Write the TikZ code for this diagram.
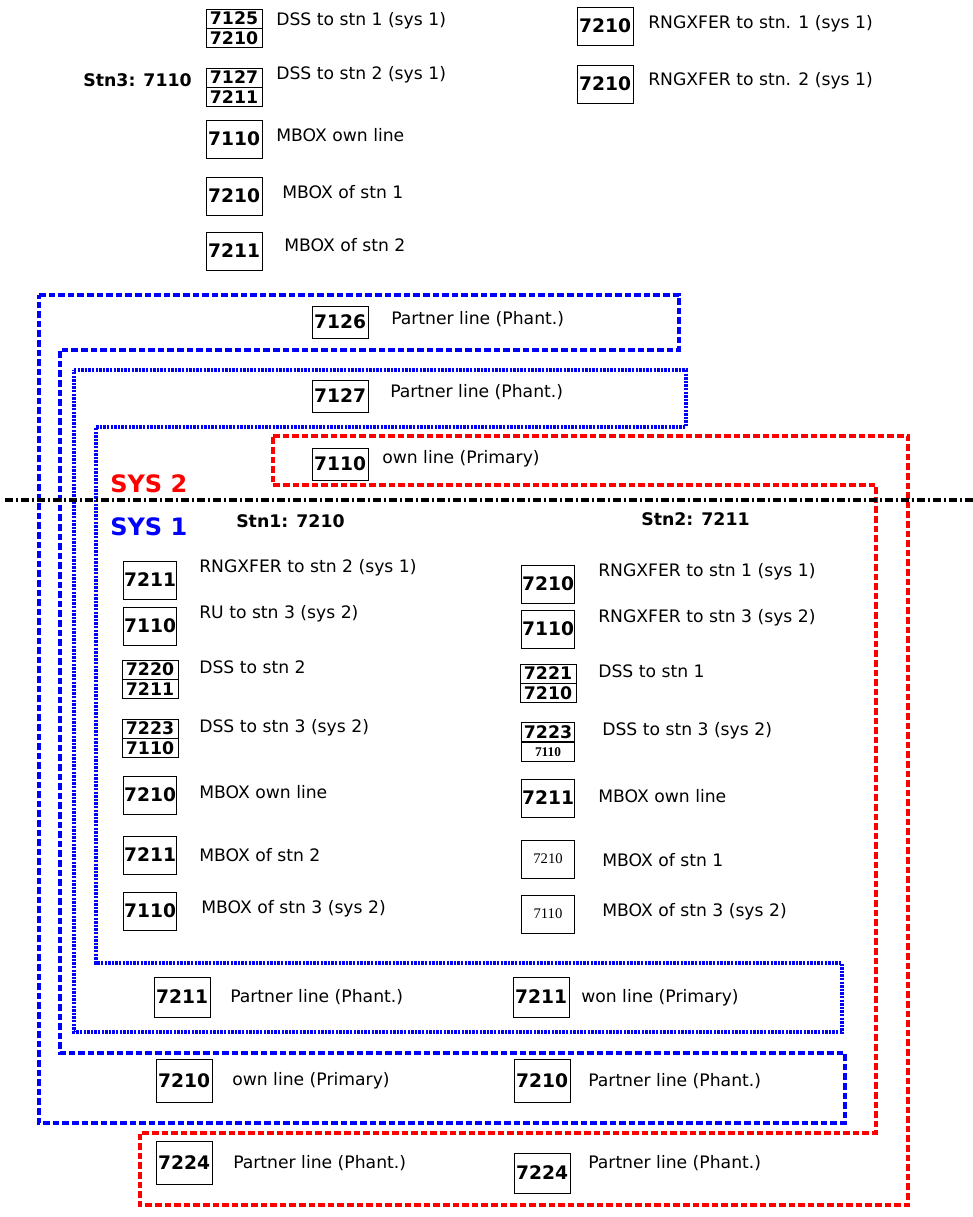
\documentclass[tikz,border=0pt]{standalone}
\usepackage{fontspec}
\setmainfont{DejaVu Sans}
\newfontfamily\numserif{Liberation Serif}
\usetikzlibrary{positioning}
\newcommand{\pairbox}[5]{
    % #1: name, #2: x, #3: y (centre), #4: upper, #5: lower
    \node[half] (#1a) at (#2,#3-9.5) {#4};
    \node[half, below=0pt of #1a] (#1b) {#5};
}
\begin{document}
\begin{tikzpicture}[x=0.75pt, y=-0.75pt]
    \tikzset{
        num/.style={draw, line width=0.7pt, minimum width=42pt, minimum height=28.5pt, inner sep=0, font=\fontsize{14}{15}\selectfont\bfseries},
        half/.style={draw, line width=0.7pt, minimum width=42pt, minimum height=14.25pt, inner sep=0, font=\fontsize{13}{13}\selectfont\bfseries},
        small/.style={num, font=\fontsize{11}{12}\numserif},
        lbl/.style={anchor=west, inner sep=0, font=\fontsize{12.9}{14}\selectfont},
        head/.style={anchor=west, inner sep=0, font=\fontsize{13}{14}\selectfont\bfseries},
        sys/.style={anchor=west, inner sep=0, font=\fontsize{18}{19}\selectfont\bfseries},
        sysdash/.style={line width=2.6pt, dash pattern=on 5pt off 2.2pt},
        sysdot/.style={line width=2.6pt, dash pattern=on 1.8pt off 0.9pt},
    }
    \useasboundingbox (0,0) rectangle (973,1217);
    % system outlines
    \draw[blue, sysdash] (39,295) -- (679,295) -- (679,350) -- (60,350) -- (60,1053)
        -- (845,1053) -- (845,1123) -- (39,1123) -- cycle;
    \draw[blue, sysdot] (74,370) -- (686,370) -- (686,427) -- (96,427) -- (96,963)
        -- (842,963) -- (842,1032) -- (74,1032) -- cycle;
    \draw[red, sysdash] (273,436) -- (908,436) -- (908,1205) -- (140,1205) -- (140,1133)
        -- (876,1133) -- (876,485) -- (273,485) -- cycle;
    \coordinate (splitL) at (5,500);
    \coordinate (splitR) at (973,500);
    \draw[line width=2.6pt, dash pattern=on 6pt off 2pt on 2pt off 2pt] (splitL) -- (splitR);
    % station 3 (sys 2)
    \node[head, anchor=east] (stn3) at (192,80) {Stn3: 7110};
    \pairbox{tdss1}{234}{28}{7125}{7210}
    \node[lbl] (ltdss1) at (276,21) {DSS to stn 1 (sys 1)};
    \pairbox{tdss2}{234}{87}{7127}{7211}
    \node[lbl] (ltdss2) at (276,75) {DSS to stn 2 (sys 1)};
    \node[num] (town) at (234,139) {7110};
    \node[lbl] (ltown) at (276,135) {MBOX own line};
    \node[num] (tmb1) at (234,196) {7210};
    \node[lbl] (ltmb1) at (282,192) {MBOX of stn 1};
    \node[num] (tmb2) at (234,251) {7211};
    \node[lbl] (ltmb2) at (284,245) {MBOX of stn 2};
    \node[num] (trx1) at (605,26) {7210};
    \node[lbl] (ltrx1) at (648,24) {RNGXFER to stn. 1 (sys 1)};
    \node[num] (trx2) at (605,84) {7210};
    \node[lbl] (ltrx2) at (648,81) {RNGXFER to stn. 2 (sys 1)};
    % lines above the split
    \node[num, minimum height=24pt] (p7126) at (340,322) {7126};
    \node[lbl] (lp7126) at (391,319) {Partner line (Phant.)};
    \node[num, minimum height=24pt] (p7127) at (340,396) {7127};
    \node[lbl] (lp7127) at (390,392) {Partner line (Phant.)};
    \node[num, minimum height=24pt] (p7110) at (340,464) {7110};
    \node[lbl] (lp7110) at (382,459) {own line (Primary)};
    \node[sys, red] (sys2) at (110,484) {SYS 2};
    \node[sys, blue] (sys1) at (110,527) {SYS 1};
    % station 1
    \node[head] (stn1) at (236,521) {Stn1: 7210};
    \node[num, minimum width=40pt] (arx) at (150,580) {7211};
    \node[lbl] (larx) at (199,568) {RNGXFER to stn 2 (sys 1)};
    \node[num, minimum width=40pt] (aru) at (150,626) {7110};
    \node[lbl] (laru) at (199,614) {RU to stn 3 (sys 2)};
    \pairbox{adss2}{150}{679}{7220}{7211}
    \node[lbl] (ladss2) at (199,667) {DSS to stn 2};
    \pairbox{adss3}{150}{738}{7223}{7110}
    \node[lbl] (ladss3) at (199,728) {DSS to stn 3 (sys 2)};
    \node[num, minimum width=40pt] (aown) at (150,795) {7210};
    \node[lbl] (laown) at (199,792) {MBOX own line};
    \node[num, minimum width=40pt] (amb2) at (150,855) {7211};
    \node[lbl] (lamb2) at (199,855) {MBOX of stn 2};
    \node[num, minimum width=40pt] (amb3) at (150,911) {7110};
    \node[lbl] (lamb3) at (201,909) {MBOX of stn 3 (sys 2)};
    % station 2
    \node[head] (stn2) at (641,519) {Stn2: 7211};
    \node[num, minimum width=40pt] (brx1) at (548,584) {7210};
    \node[lbl] (lbrx1) at (598,572) {RNGXFER to stn 1 (sys 1)};
    \node[num, minimum width=40pt] (brx3) at (548,629) {7110};
    \node[lbl] (lbrx3) at (598,618) {RNGXFER to stn 3 (sys 2)};
    \pairbox{bdss1}{548}{683}{7221}{7210}
    \node[lbl] (lbdss1) at (598,671) {DSS to stn 1};
    \node[half, minimum width=40pt] (bdss3a) at (548,732) {7223};
    \node[half, minimum width=40pt, below=0pt of bdss3a, font=\fontsize{10}{11}\numserif\bfseries] (bdss3b) {7110};
    \node[lbl] (lbdss3) at (602,731) {DSS to stn 3 (sys 2)};
    \node[num, minimum width=40pt] (bown) at (548,798) {7211};
    \node[lbl] (lbown) at (598,796) {MBOX own line};
    \node[small, minimum width=40pt] (bmb1) at (548,859) {7210};
    \node[lbl] (lbmb1) at (602,860) {MBOX of stn 1};
    \node[small, minimum width=40pt] (bmb3) at (548,914) {7110};
    \node[lbl] (lbmb3) at (602,912) {MBOX of stn 3 (sys 2)};
    % lines below the split
    \node[num, minimum height=30pt] (q7211a) at (182,997) {7211};
    \node[lbl] (lq7211a) at (230,997) {Partner line (Phant.)};
    \node[num, minimum height=30pt] (q7211b) at (541,997) {7211};
    \node[lbl] (lq7211b) at (581,998) {won line (Primary)};
    \node[num, minimum height=32pt] (q7210a) at (184,1081) {7210};
    \node[lbl] (lq7210a) at (232,1081) {own line (Primary)};
    \node[num, minimum height=32pt] (q7210b) at (542,1081) {7210};
    \node[lbl] (lq7210b) at (588,1081) {Partner line (Phant.)};
    \node[num, minimum height=32pt] (q7224a) at (184,1163) {7224};
    \node[lbl] (lq7224a) at (233,1163) {Partner line (Phant.)};
    \node[num, minimum height=30pt] (q7224b) at (542,1173) {7224};
    \node[lbl] (lq7224b) at (588,1163) {Partner line (Phant.)};
\end{tikzpicture}
\end{document}
